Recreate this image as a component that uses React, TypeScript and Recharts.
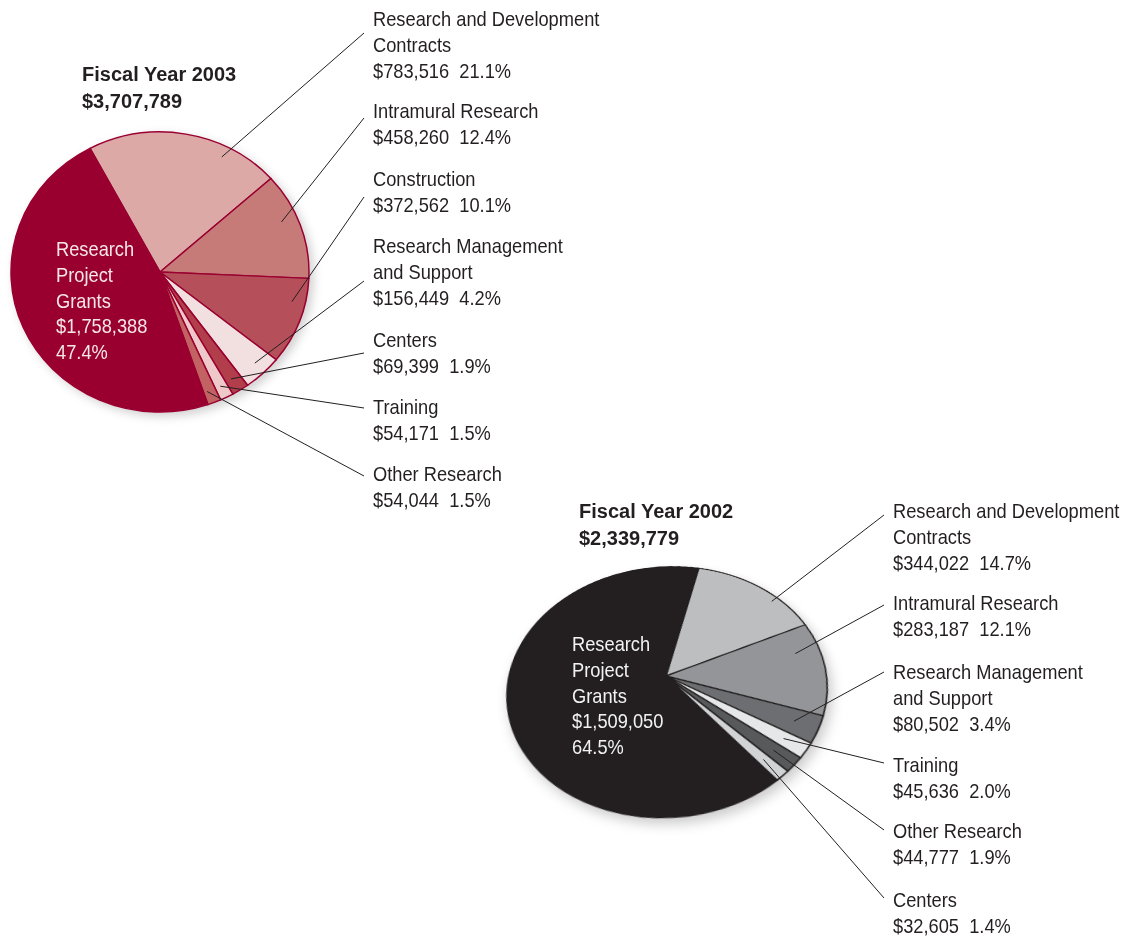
import React from 'react';
import { PieChart, Pie, Cell } from 'recharts';

// ---------- Data ----------
const fy2003Title = 'Fiscal Year 2003';
const fy2003Total = '$3,707,789';
const fy2003Categories = [
  'Research and Development Contracts',
  'Intramural Research',
  'Construction',
  'Research Management and Support',
  'Centers',
  'Training',
  'Other Research',
  'Research Project Grants',
];
const fy2003Values = [783516, 458260, 372562, 156449, 69399, 54171, 54044, 1758388];
const fy2003Percents = ['21.1%', '12.4%', '10.1%', '4.2%', '1.9%', '1.5%', '1.5%', '47.4%'];
const fy2003LabelLines = [
  ['Research and Development', 'Contracts'],
  ['Intramural Research'],
  ['Construction'],
  ['Research Management', 'and Support'],
  ['Centers'],
  ['Training'],
  ['Other Research'],
  ['Research', 'Project', 'Grants'],
];

const fy2002Title = 'Fiscal Year 2002';
const fy2002Total = '$2,339,779';
const fy2002Categories = [
  'Research and Development Contracts',
  'Intramural Research',
  'Research Management and Support',
  'Training',
  'Other Research',
  'Centers',
  'Research Project Grants',
];
const fy2002Values = [344022, 283187, 80502, 45636, 44777, 32605, 1509050];
const fy2002Percents = ['14.7%', '12.1%', '3.4%', '2.0%', '1.9%', '1.4%', '64.5%'];
const fy2002LabelLines = [
  ['Research and Development', 'Contracts'],
  ['Intramural Research'],
  ['Research Management', 'and Support'],
  ['Training'],
  ['Other Research'],
  ['Centers'],
  ['Research', 'Project', 'Grants'],
];

// ---------- Styles / layout ----------
const pie1Colors = ['#dca9a7', '#c77b79', '#b5505a', '#f2dfdf', '#b13e4a', '#efc9c9', '#c26262', '#990030'];
const pie2Colors = ['#bcbec0', '#939598', '#6d6e71', '#e6e7e8', '#58595b', '#d1d3d4', '#231f20'];

const FONT = '"Liberation Sans", Arial, Helvetica, sans-serif';
const NARROW = 0.87;
const LINE = 25.8;
const TEXT = '#231f20';

const P1 = { cx: 160, cy: 272, r: 149, sy: 0.94, start: 118 };
const P2 = { cx: 666, cy: 676, r: 159, tilt: 39.2, persp: 783, spin: 4, start: 73.5 };

// label layout (outside labels, excluding the big slice)
const p1LabelX = 373;
const p1LabelY = [26, 118, 186, 253, 347, 414, 481];
const p1LineEnd = { x: 364, y: [33, 118, 197, 281, 353, 408, 476] };
const p1AnchorFrac = [0.72, 0.41, 0.3, 0.45, 0.6, 0.55, 0.7];
const p1AnchorR = [0.92, 0.89, 0.91, 0.91, 0.9, 0.91, 0.91];
const p1Inner = { x: 56, y: 256 };

const p2LabelX = 893;
const p2LabelY = [518, 610, 679, 772, 838, 907];
const p2LineEnd = { x: 884, y: [515, 605, 672, 763, 830, 898] };
const p2AnchorFrac = [0.67, 0.3, 0.5, 0.5, 0.5, 0.5];
const p2AnchorR = [0.95, 0.84, 0.85, 0.85, 0.85, 0.85];
const p2Inner = { x: 572, y: 651 };

const fmt = (v: number) => '$' + v.toLocaleString('en-US');

function sliceBounds(values: number[], start: number) {
  const total = values.reduce((a, b) => a + b, 0);
  let cum = 0;
  return values.map((v) => {
    const a0 = start - (360 * cum) / total;
    cum += v;
    const a1 = start - (360 * cum) / total;
    return { a0, a1 };
  });
}

const rad = (d: number) => (d * Math.PI) / 180;

function project1(f: number, deg: number): [number, number] {
  return [P1.cx + f * P1.r * Math.cos(rad(deg)), P1.cy - f * P1.r * P1.sy * Math.sin(rad(deg))];
}

function project2(f: number, deg: number): [number, number] {
  const x = f * P2.r * Math.cos(rad(deg));
  const y = -f * P2.r * Math.sin(rad(deg));
  const th = rad(P2.tilt);
  const yp = y * Math.cos(th);
  const zp = y * Math.sin(th);
  const s = P2.persp / (P2.persp - zp);
  const X = x * s;
  const Y = yp * s;
  const a = rad(P2.spin);
  return [P2.cx + X * Math.cos(a) + Y * Math.sin(a), P2.cy - X * Math.sin(a) + Y * Math.cos(a)];
}

function NarrowText({ x, y, children, size = 21, fill = TEXT }: any) {
  return (
    <text
      transform={`translate(${x} ${y}) scale(${NARROW} 1)`}
      fontSize={size}
      fontFamily={FONT}
      fill={fill}
      style={{ whiteSpace: 'pre' }}
    >
      {children}
    </text>
  );
}

function Title({ x, y, title, total }: any) {
  return (
    <g>
      <text x={x} y={y} fontSize={20} fontWeight="bold" fontFamily={FONT} fill={TEXT}>
        {title}
      </text>
      <text x={x} y={y + 27} fontSize={20} fontWeight="bold" fontFamily={FONT} fill={TEXT}>
        {total}
      </text>
    </g>
  );
}

function OutsideLabels({ lines, values, percents, labelX, labelY, lineEnd, anchors }: any) {
  return (
    <g>
      {labelY.map((y0: number, i: number) => {
        const rows = [...lines[i], `${fmt(values[i])}  ${percents[i]}`];
        const [ax, ay] = anchors[i];
        return (
          <g key={i}>
            <line x1={ax} y1={ay} x2={lineEnd.x} y2={lineEnd.y[i]} stroke={TEXT} strokeWidth={1} />
            {rows.map((t: string, j: number) => (
              <NarrowText key={j} x={labelX} y={y0 + j * LINE}>
                {t}
              </NarrowText>
            ))}
          </g>
        );
      })}
    </g>
  );
}

function InsideLabel({ x, y, lines, value, percent, fill }: any) {
  const rows = [...lines, fmt(value), percent];
  return (
    <g>
      {rows.map((t: string, j: number) => (
        <NarrowText key={j} x={x} y={y + j * LINE} fill={fill}>
          {t}
        </NarrowText>
      ))}
    </g>
  );
}

export default function App() {
  const data1 = fy2003Categories.map((name, i) => ({ name, value: fy2003Values[i] }));
  const data2 = fy2002Categories.map((name, i) => ({ name, value: fy2002Values[i] }));

  const b1 = sliceBounds(fy2003Values, P1.start);
  const b2 = sliceBounds(fy2002Values, P2.start);
  const anchors1 = p1LabelY.map((_, i) => {
    const { a0, a1 } = b1[i];
    return project1(p1AnchorR[i], a0 + (a1 - a0) * p1AnchorFrac[i]);
  });
  const anchors2 = p2LabelY.map((_, i) => {
    const { a0, a1 } = b2[i];
    return project2(p2AnchorR[i], a0 + (a1 - a0) * p2AnchorFrac[i]);
  });

  const n1 = fy2003Categories.length - 1;
  const n2 = fy2002Categories.length - 1;

  return (
    <div style={{ position: 'absolute', left: 0, top: 0, width: 1127, height: 936, background: '#ffffff', overflow: 'hidden' }}>
      <div
        style={{
          position: 'absolute',
          left: P1.cx - 160,
          top: P1.cy - 160,
          width: 320,
          height: 320,
          transform: `scaleY(${P1.sy})`,
          transformOrigin: '160px 160px',
          filter: 'drop-shadow(4px 4px 5px rgba(0,0,0,0.18))',
        }}
      >
        <PieChart width={320} height={320} margin={{ top: 0, right: 0, bottom: 0, left: 0 }}>
          <Pie
            data={data1}
            dataKey="value"
            nameKey="name"
            cx={160}
            cy={160}
            innerRadius={0}
            outerRadius={P1.r}
            startAngle={P1.start}
            endAngle={P1.start - 360}
            stroke="#990030"
            strokeWidth={1.5}
            isAnimationActive={false}
          >
            {data1.map((d, i) => (
              <Cell key={d.name} fill={pie1Colors[i]} />
            ))}
          </Pie>
        </PieChart>
      </div>

      <div
        style={{
          position: 'absolute',
          left: P2.cx - 170,
          top: P2.cy - 170,
          width: 340,
          height: 340,
          transform: `rotate(${-P2.spin}deg) perspective(${P2.persp}px) rotateX(${P2.tilt}deg)`,
          transformOrigin: '170px 170px',
          filter: 'drop-shadow(3px 6px 6px rgba(0,0,0,0.2))',
        }}
      >
        <PieChart width={340} height={340} margin={{ top: 0, right: 0, bottom: 0, left: 0 }}>
          <Pie
            data={data2}
            dataKey="value"
            nameKey="name"
            cx={170}
            cy={170}
            innerRadius={0}
            outerRadius={P2.r}
            startAngle={P2.start}
            endAngle={P2.start - 360}
            stroke="#231f20"
            strokeWidth={1.5}
            isAnimationActive={false}
          >
            {data2.map((d, i) => (
              <Cell key={d.name} fill={pie2Colors[i]} />
            ))}
          </Pie>
        </PieChart>
      </div>

      <svg width={1127} height={936} style={{ position: 'absolute', left: 0, top: 0, pointerEvents: 'none' }}>
        <Title x={82} y={81} title={fy2003Title} total={fy2003Total} />
        <OutsideLabels
          lines={fy2003LabelLines}
          values={fy2003Values}
          percents={fy2003Percents}
          labelX={p1LabelX}
          labelY={p1LabelY}
          lineEnd={p1LineEnd}
          anchors={anchors1}
        />
        <InsideLabel
          x={p1Inner.x}
          y={p1Inner.y}
          lines={fy2003LabelLines[n1]}
          value={fy2003Values[n1]}
          percent={fy2003Percents[n1]}
          fill="#f5e6e8"
        />

        <Title x={579} y={518} title={fy2002Title} total={fy2002Total} />
        <OutsideLabels
          lines={fy2002LabelLines}
          values={fy2002Values}
          percents={fy2002Percents}
          labelX={p2LabelX}
          labelY={p2LabelY}
          lineEnd={p2LineEnd}
          anchors={anchors2}
        />
        <InsideLabel
          x={p2Inner.x}
          y={p2Inner.y}
          lines={fy2002LabelLines[n2]}
          value={fy2002Values[n2]}
          percent={fy2002Percents[n2]}
          fill="#f2f2f2"
        />
      </svg>
    </div>
  );
}
